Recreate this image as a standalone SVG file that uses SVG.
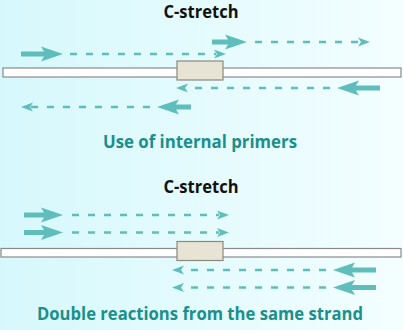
<svg xmlns="http://www.w3.org/2000/svg" width="403" height="330" viewBox="0 0 403 330">
  <defs>
    <linearGradient id="bg" x1="0" y1="0" x2="1" y2="0">
      <stop offset="0" stop-color="#d6f8fc"/>
      <stop offset="1" stop-color="#f3feff"/>
    </linearGradient>
    <style>
      .title { font-family: "Open Sans", "DejaVu Sans", sans-serif; font-weight: bold; font-size: 17px; fill: #111; text-anchor: middle; }
      .caption { font-family: "Open Sans", "DejaVu Sans", sans-serif; font-weight: bold; font-size: 17px; fill: #1a8f8c; text-anchor: middle; }
      .strand { fill: #ffffff; stroke: #8a8a8a; stroke-width: 1.2; }
      .cbox { fill: #e7e3d5; stroke: #8a8a7c; stroke-width: 1.2; }
      .thick { fill: #5fbdbc; stroke: none; }
      .head { fill: #5fbdbc; stroke: none; }
      .dash { stroke: #5fbdbc; stroke-width: 2.5; stroke-dasharray: 7 9; fill: none; }
    </style>
  </defs>

  <rect x="0" y="0" width="403" height="330" fill="url(#bg)"/>

  <!-- Top panel -->
  <g id="title-top">
    <text class="title" x="201" y="18" textLength="75" lengthAdjust="spacingAndGlyphs">C-stretch</text>
  </g>
  <g id="strand-top">
    <rect class="strand" x="3" y="68" width="398" height="9"/>
  </g>
  <g id="cstretch-top">
    <rect class="cbox" x="177" y="61" width="46" height="19"/>
  </g>
  <g id="caption-top">
    <text class="caption" x="200" y="147.5" textLength="194" lengthAdjust="spacingAndGlyphs">Use of internal primers</text>
  </g>

  <!-- Bottom panel -->
  <g id="title-bottom">
    <text class="title" x="201" y="193" textLength="75" lengthAdjust="spacingAndGlyphs">C-stretch</text>
  </g>
  <g id="strand-bottom">
    <rect class="strand" x="1" y="248.5" width="400" height="8.5"/>
  </g>
  <g id="cstretch-bottom">
    <rect class="cbox" x="177" y="241.5" width="46" height="19"/>
  </g>
  <g id="caption-bottom">
    <text class="caption" x="200" y="320" textLength="326" lengthAdjust="spacingAndGlyphs">Double reactions from the same strand</text>
  </g>

  <g id="connectors">
    <!-- top: forward primer 1 -->
    <path class="thick" d="M21,51.5 H44 L41,46.5 L63,54 L41,61.5 L44,56.5 H21 Z"/>
    <line class="dash" x1="70" y1="54" x2="216" y2="54"/>
    <path class="head" d="M226,54 L214,49.5 L217,54 L214,58.5 Z"/>

    <!-- top: forward primer 2 (internal) -->
    <path class="thick" d="M212,39.5 H228 L225,34.5 L247,42 L225,49.5 L228,44.5 H212 Z"/>
    <line class="dash" x1="255" y1="42" x2="360" y2="42"/>
    <path class="head" d="M370,42 L358,37.5 L361,42 L358,46.5 Z"/>

    <!-- top: reverse primer 1 -->
    <path class="thick" d="M380,85.5 H356 L359,80.5 L337,88 L359,95.5 L356,90.5 H380 Z"/>
    <line class="dash" x1="330" y1="88" x2="186" y2="88"/>
    <path class="head" d="M176,88 L188,83.5 L185,88 L188,92.5 Z"/>

    <!-- top: reverse primer 2 (internal) -->
    <path class="thick" d="M191,104.5 H176 L179,99.5 L157,107 L179,114.5 L176,109.5 H191 Z"/>
    <line class="dash" x1="150" y1="107" x2="31" y2="107"/>
    <path class="head" d="M21,107 L33,102.5 L30,107 L33,111.5 Z"/>

    <!-- bottom: forward primers -->
    <path class="thick" d="M24,212.5 H44 L41,207.5 L63,215 L41,222.5 L44,217.5 H24 Z"/>
    <line class="dash" x1="72" y1="215" x2="219" y2="215"/>
    <path class="head" d="M229,215 L217,210.5 L220,215 L217,219.5 Z"/>

    <path class="thick" d="M24,230 H44 L41,225 L63,232.5 L41,240 L44,235 H24 Z"/>
    <line class="dash" x1="72" y1="232.5" x2="219" y2="232.5"/>
    <path class="head" d="M229,232.5 L217,228 L220,232.5 L217,237 Z"/>

    <!-- bottom: reverse primers -->
    <path class="thick" d="M376,267.5 H352 L355,262.5 L333,270 L355,277.5 L352,272.5 H376 Z"/>
    <line class="dash" x1="326" y1="270" x2="182" y2="270"/>
    <path class="head" d="M172,270 L184,265.5 L181,270 L184,274.5 Z"/>

    <path class="thick" d="M376,285 H352 L355,280 L333,287.5 L355,295 L352,290 H376 Z"/>
    <line class="dash" x1="326" y1="287.5" x2="182" y2="287.5"/>
    <path class="head" d="M172,287.5 L184,283 L181,287.5 L184,292 Z"/>
  </g>
</svg>
